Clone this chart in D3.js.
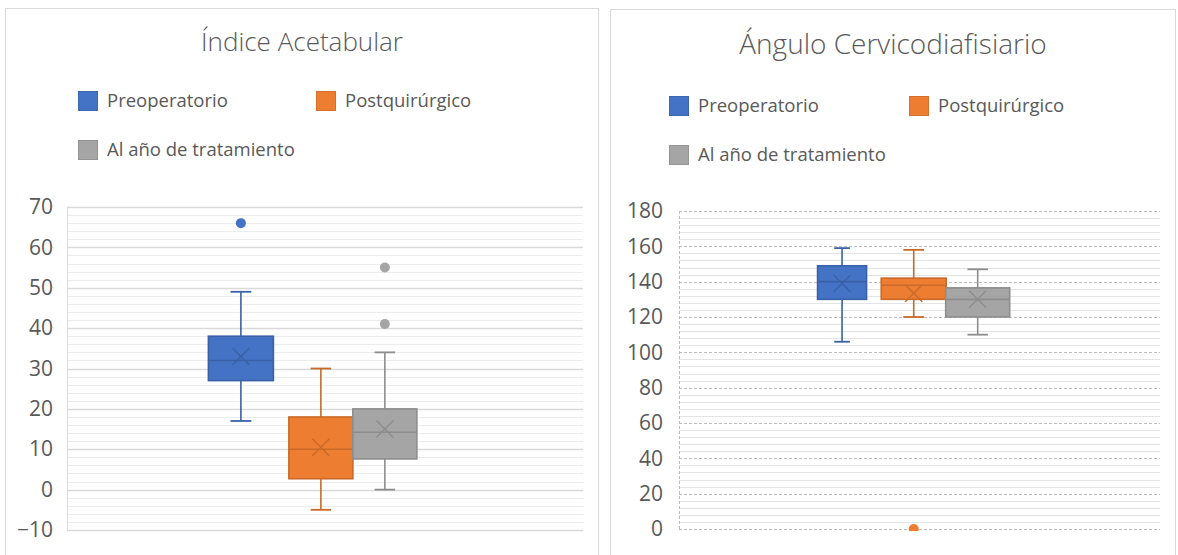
<!DOCTYPE html>
<html>
<head>
<meta charset="utf-8">
<script src="https://cdn.jsdelivr.net/npm/d3@7"></script>
<style>
  html, body { margin: 0; padding: 0; background: #fff; }
  svg { display: block; font-family: "Open Sans", "Noto Sans", sans-serif; }
</style>
</head>
<body>
<svg id="chart" width="1178" height="555"></svg>
<script>
// Series shared by both panels
const seriesNames = ["Preoperatorio", "Postquirúrgico", "Al año de tratamiento"];
const seriesColors = ["#4472C4", "#ED7D31", "#A5A5A5"];

// Índice Acetabular: five-number summaries, means and outliers per series
const acetMin = [17, -5, 0];
const acetQ1 = [27, 2.7, 7.6];
const acetMedian = [32, 10, 14.2];
const acetQ3 = [38, 18, 20];
const acetMax = [49, 30, 34];
const acetMean = [33, 10.5, 15];
const acetOutliers = [[66], [], [41, 55]];
const acetTicks = [-10, 0, 10, 20, 30, 40, 50, 60, 70];

// Ángulo Cervicodiafisiario
const cervMin = [106, 120, 110];
const cervQ1 = [130, 130, 120];
const cervMedian = [140, 138, 130];
const cervQ3 = [149, 142, 136.5];
const cervMax = [159, 158, 147];
const cervMean = [139, 133.5, 130];
const cervOutliers = [[], [0], []];
const cervTicks = [0, 20, 40, 60, 80, 100, 120, 140, 160, 180];

const svg = d3.select("#chart");
const textColor = "#595959";

function drawPanel(cfg) {
  const g = svg.append("g");

  // panel frame
  g.append("rect")
    .attr("x", cfg.frame[0] + 0.5).attr("y", cfg.frame[1] + 0.5)
    .attr("width", cfg.frame[2]).attr("height", cfg.frame[3])
    .attr("fill", "#fff").attr("stroke", "#d9d9d9");

  // title
  g.append("text")
    .attr("x", cfg.titleX).attr("y", cfg.titleY)
    .attr("text-anchor", "middle")
    .attr("font-size", cfg.titleSize).attr("font-weight", 300)
    .attr("fill", textColor)
    .text(cfg.title);

  // legend
  const leg = g.selectAll("g.leg").data(seriesNames).join("g")
    .attr("transform", (d, i) => `translate(${cfg.legendPos[i][0]},${cfg.legendPos[i][1]})`);
  leg.append("rect")
    .attr("x", 0.5).attr("y", -9.5).attr("width", 19).attr("height", 19)
    .attr("fill", (d, i) => seriesColors[i])
    .attr("stroke", (d, i) => d3.color(seriesColors[i]).darker(0.3));
  leg.append("text")
    .attr("x", 29).attr("y", 0).attr("dy", "0.35em")
    .attr("font-size", 18.5).attr("fill", textColor)
    .text(d => d);

  const y = d3.scaleLinear().domain(cfg.yDomain).range([cfg.plot.bottom, cfg.plot.top]);
  const x = d3.scaleLinear().domain([0, 1]).range([cfg.plot.left, cfg.plot.right]);

  // gridlines: minor first, then major on top
  const minorVals = d3.range(cfg.yDomain[0], cfg.yDomain[1] + 1e-9, cfg.minorStep)
    .filter(v => !cfg.ticks.includes(v));
  g.append("g").selectAll("line").data(minorVals).join("line")
    .attr("x1", cfg.plot.left).attr("x2", cfg.plot.right)
    .attr("y1", d => Math.round(y(d)) + 0.5).attr("y2", d => Math.round(y(d)) + 0.5)
    .attr("stroke", cfg.minorColor).attr("stroke-width", 1);
  g.append("g").selectAll("line").data(cfg.ticks).join("line")
    .attr("x1", cfg.plot.left).attr("x2", cfg.plot.right)
    .attr("y1", d => Math.round(y(d)) + 0.5).attr("y2", d => Math.round(y(d)) + 0.5)
    .attr("stroke", cfg.majorColor).attr("stroke-width", cfg.majorWidth)
    .attr("stroke-dasharray", cfg.majorDash);

  // vertical axis line
  g.append("line")
    .attr("x1", cfg.plot.left + 0.5).attr("x2", cfg.plot.left + 0.5)
    .attr("y1", y(cfg.yDomain[0])).attr("y2", y(cfg.yDomain[1]))
    .attr("stroke", cfg.majorColor).attr("stroke-dasharray", cfg.majorDash);

  // tick labels
  const axis = g.append("g")
    .attr("transform", `translate(${cfg.labelX},0)`)
    .call(d3.axisLeft(y).tickValues(cfg.ticks).tickSize(0).tickPadding(0).tickFormat(d3.format("d")));
  axis.select(".domain").remove();
  axis.selectAll("text")
    .attr("font-size", 21).attr("fill", textColor)
    .attr("font-family", "\"Open Sans\", sans-serif");

  // clip to plot area (outliers at the floor are cut off by it)
  const clipId = "clip-" + cfg.id;
  svg.append("clipPath").attr("id", clipId).append("rect")
    .attr("x", cfg.plot.left).attr("y", cfg.plot.top - 8)
    .attr("width", cfg.plot.right - cfg.plot.left)
    .attr("height", cfg.plot.bottom - cfg.plot.top + 10);

  const boxes = seriesNames.map((name, i) => ({
    name, i,
    min: cfg.min[i], q1: cfg.q1[i], med: cfg.median[i], q3: cfg.q3[i],
    max: cfg.max[i], mean: cfg.mean[i], out: cfg.outliers[i],
    cx: x(cfg.slot[i]), w: cfg.boxWidth[i]
  }));

  const bg = g.append("g").attr("clip-path", `url(#${clipId})`)
    .selectAll("g.box").data(boxes).join("g");

  bg.each(function(d) {
    const s = d3.select(this);
    const col = seriesColors[d.i];
    const dark = d3.color(col).darker(0.45).formatHex();
    const capW = d.w * 0.32;
    // whiskers
    s.append("line").attr("x1", d.cx).attr("x2", d.cx)
      .attr("y1", y(d.max)).attr("y2", y(d.q3))
      .attr("stroke", dark).attr("stroke-width", 1.6);
    s.append("line").attr("x1", d.cx).attr("x2", d.cx)
      .attr("y1", y(d.q1)).attr("y2", y(d.min))
      .attr("stroke", dark).attr("stroke-width", 1.6);
    [d.max, d.min].forEach(v => {
      s.append("line").attr("x1", d.cx - capW / 2).attr("x2", d.cx + capW / 2)
        .attr("y1", y(v)).attr("y2", y(v))
        .attr("stroke", dark).attr("stroke-width", 1.8);
    });
    // box
    s.append("rect")
      .attr("x", d.cx - d.w / 2).attr("y", y(d.q3))
      .attr("width", d.w).attr("height", y(d.q1) - y(d.q3))
      .attr("fill", col).attr("stroke", dark).attr("stroke-width", 1.6);
    // median
    s.append("line").attr("x1", d.cx - d.w / 2).attr("x2", d.cx + d.w / 2)
      .attr("y1", y(d.med)).attr("y2", y(d.med))
      .attr("stroke", dark).attr("stroke-width", 1.6);
    // mean marker (X)
    const m = 8.5;
    const my = y(d.mean);
    s.append("path")
      .attr("d", `M${d.cx - m},${my - m}L${d.cx + m},${my + m}M${d.cx - m},${my + m}L${d.cx + m},${my - m}`)
      .attr("stroke", dark).attr("stroke-width", 1.4).attr("fill", "none");
    // outliers
    s.selectAll("circle").data(d.out).join("circle")
      .attr("cx", d.cx).attr("cy", v => y(v)).attr("r", 5)
      .attr("fill", col);
  });
}

drawPanel({
  id: "acet",
  frame: [5, 8, 593, 560],
  title: "Índice Acetabular",
  titleX: 302, titleY: 51, titleSize: 26,
  legendPos: [[78, 101], [316, 101], [78, 150]],
  plot: { left: 67, right: 583, top: 207, bottom: 530 },
  yDomain: [-10, 70],
  ticks: acetTicks,
  minorStep: 2,
  labelX: 53,
  majorColor: "#d9d9d9", majorWidth: 1.4, majorDash: null, minorColor: "#ececec",
  min: acetMin, q1: acetQ1, median: acetMedian, q3: acetQ3, max: acetMax,
  mean: acetMean, outliers: acetOutliers,
  slot: [0.337, 0.492, 0.616],
  boxWidth: [65, 64, 64]
});

drawPanel({
  id: "cerv",
  frame: [610, 9, 565, 560],
  title: "Ángulo Cervicodiafisiario",
  titleX: 893, titleY: 54, titleSize: 28,
  legendPos: [[669, 106], [909, 106], [669, 155]],
  plot: { left: 679, right: 1160, top: 211, bottom: 529 },
  yDomain: [0, 180],
  ticks: cervTicks,
  minorStep: 4,
  labelX: 663,
  majorColor: "#bdbdbd", majorWidth: 1, majorDash: "3,2", minorColor: "#e4e4e4",
  min: cervMin, q1: cervQ1, median: cervMedian, q3: cervQ3, max: cervMax,
  mean: cervMean, outliers: cervOutliers,
  slot: [0.339, 0.488, 0.621],
  boxWidth: [49, 65, 64]
});
</script>
</body>
</html>
